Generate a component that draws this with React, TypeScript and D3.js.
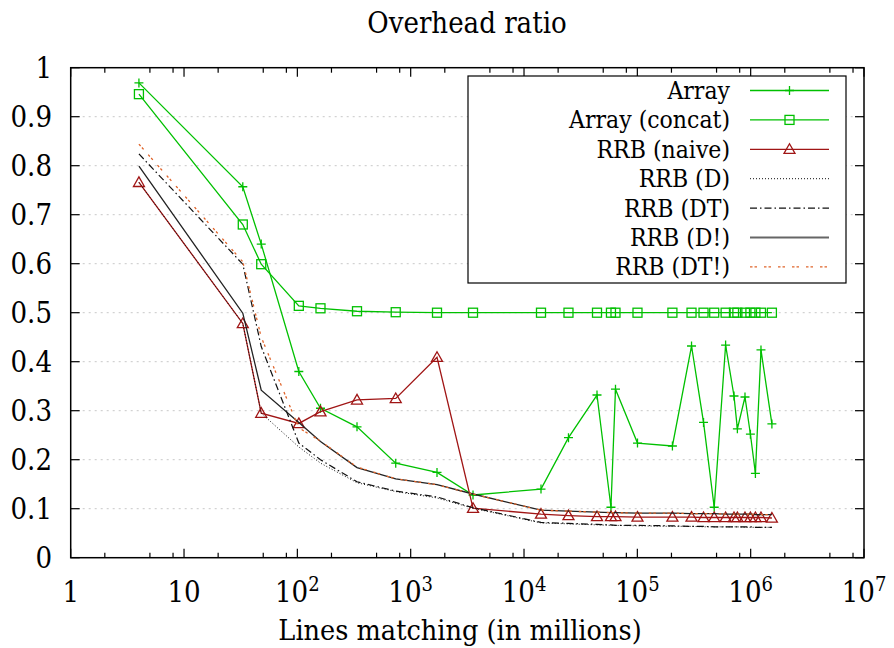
import React from "react";
import * as d3 from "d3";

const xVals = [4, 33, 48, 103, 160, 336, 738, 1707, 3548, 14120, 24680, 44060, 58500, 64150, 100300, 203900, 300700, 383700, 476700, 601000, 712600, 763300, 891000, 994600, 1101000, 1233000, 1539000];
const arrayVals = [0.969, 0.757, 0.640, 0.380, 0.305, 0.267, 0.193, 0.174, 0.128, 0.140, 0.245, 0.332, 0.103, 0.344, 0.234, 0.228, 0.432, 0.276, 0.103, 0.434, 0.330, 0.263, 0.328, 0.252, 0.172, 0.424, 0.273];
const concatVals = [0.946, 0.680, 0.599, 0.514, 0.509, 0.503, 0.501, 0.500, 0.500, 0.500, 0.500, 0.500, 0.500, 0.500, 0.500, 0.500, 0.500, 0.500, 0.500, 0.500, 0.500, 0.500, 0.500, 0.500, 0.500, 0.500, 0.500];
const naiveVals = [0.766, 0.478, 0.295, 0.274, 0.298, 0.322, 0.325, 0.409, 0.101, 0.089, 0.086, 0.084, 0.084, 0.084, 0.083, 0.083, 0.083, 0.082, 0.082, 0.082, 0.082, 0.082, 0.082, 0.082, 0.082, 0.082, 0.081];
const dVals = [0.766, 0.478, 0.295, 0.226, 0.193, 0.153, 0.135, 0.122, 0.101, 0.071, 0.069, 0.067, 0.066, 0.066, 0.065, 0.064, 0.064, 0.063, 0.063, 0.063, 0.063, 0.063, 0.062, 0.062, 0.062, 0.062, 0.062];
const dtVals = [0.824, 0.599, 0.431, 0.234, 0.200, 0.155, 0.136, 0.124, 0.102, 0.072, 0.070, 0.068, 0.067, 0.066, 0.066, 0.065, 0.064, 0.064, 0.063, 0.063, 0.063, 0.063, 0.063, 0.063, 0.062, 0.062, 0.062];
const dBangVals = [0.799, 0.499, 0.342, 0.276, 0.237, 0.184, 0.161, 0.149, 0.130, 0.097, 0.095, 0.093, 0.092, 0.092, 0.091, 0.091, 0.090, 0.090, 0.090, 0.089, 0.089, 0.089, 0.089, 0.089, 0.088, 0.088, 0.088];
const dtBangVals = [0.844, 0.604, 0.450, 0.265, 0.238, 0.185, 0.161, 0.149, 0.130, 0.097, 0.095, 0.093, 0.092, 0.092, 0.091, 0.091, 0.090, 0.090, 0.090, 0.089, 0.089, 0.089, 0.089, 0.089, 0.088, 0.088, 0.088];

const seriesNames = ["Array", "Array (concat)", "RRB (naive)", "RRB (D)", "RRB (DT)", "RRB (D!)", "RRB (DT!)"];
const yTicks = [0, 0.1, 0.2, 0.3, 0.4, 0.5, 0.6, 0.7, 0.8, 0.9, 1];
const yTickLabels = ["0", "0.1", "0.2", "0.3", "0.4", "0.5", "0.6", "0.7", "0.8", "0.9", "1"];
const xExponents = [0, 1, 2, 3, 4, 5, 6, 7];
const minorMults = [2, 5, 8];

const FONT = "'DejaVu Serif', serif";

type Style = { color: string; width: number; dash?: string; marker?: "plus" | "square" | "triangle"; legColor?: string };
const styles: Style[] = [
  { color: "#00c000", width: 1.3, marker: "plus" },
  { color: "#00c000", width: 1.3, marker: "square" },
  { color: "#a01515", width: 1.3, marker: "triangle" },
  { color: "#111", width: 1, dash: "1,2" },
  { color: "#111", width: 1.2, dash: "7,3,1.5,3" },
  { color: "#222", width: 1.3, legColor: "#666" },
  { color: "#e0642a", width: 1.3, dash: "2.5,2,2.5,7" },
];

const seriesValues = [arrayVals, concatVals, naiveVals, dVals, dtVals, dBangVals, dtBangVals];

function Marker({ kind, x, y, color }: { kind?: string; x: number; y: number; color: string }) {
  if (kind === "plus") {
    const s = 4.5;
    return <path d={`M${x - s},${y}H${x + s}M${x},${y - s}V${y + s}`} stroke={color} strokeWidth={1.3} fill="none" />;
  }
  if (kind === "square") {
    const s = 4.5;
    return <rect x={x - s} y={y - s} width={2 * s} height={2 * s} stroke={color} strokeWidth={1.3} fill="none" />;
  }
  if (kind === "triangle") {
    const s = 5.5;
    return <path d={`M${x},${y - s}L${x + s},${y + s * 0.75}L${x - s},${y + s * 0.75}Z`} stroke={color} strokeWidth={1.3} fill="none" />;
  }
  return null;
}

export default function App() {
  const W = 894, H = 648;
  const x0 = 70.7, x1 = 864, yTop = 67.7, yBot = 557.7;
  const x = d3.scaleLog().domain([1, 1e7]).range([x0, x1]);
  const y = d3.scaleLinear().domain([0, 1]).range([yBot, yTop]);
  const line = d3.line<[number, number]>().x((d) => x(d[0])).y((d) => y(d[1]));

  const legX = 468, legY = 76, legW = 378, legH = 207;
  const rowY0 = 90.5, rowDy = 29.4;

  return (
    <svg width={W} height={H} style={{ position: "absolute", left: 0, top: 0, background: "#fff" }} fontFamily={FONT}>
      <style>{`text{font-stretch:condensed;}`}</style>
      {/* grid */}
      {yTicks.slice(1, -1).map((t) => (
        <line key={"g" + t} x1={x0} x2={x1} y1={y(t)} y2={y(t)} stroke="#c8c8c8" strokeWidth={1} strokeDasharray="2,4" />
      ))}
      {/* y ticks */}
      {yTicks.map((t, i) => (
        <g key={"yt" + t}>
          <line x1={x0} x2={x0 + 9} y1={y(t)} y2={y(t)} stroke="#000" strokeWidth={1.2} />
          <line x1={x1} x2={x1 - 9} y1={y(t)} y2={y(t)} stroke="#000" strokeWidth={1.2} />
          <text x={52} y={y(t) + 10.5} textAnchor="end" fontSize={29}>{yTickLabels[i]}</text>
        </g>
      ))}
      {/* x ticks */}
      {xExponents.map((e) => {
        const v = Math.pow(10, e);
        const px = x(v);
        return (
          <g key={"xt" + e}>
            <line x1={px} x2={px} y1={yBot} y2={yBot - 9} stroke="#000" strokeWidth={1.2} />
            <line x1={px} x2={px} y1={yTop} y2={yTop + 9} stroke="#000" strokeWidth={1.2} />
            <text x={px} y={602} textAnchor="middle" fontSize={29}>
              {e === 0 ? "1" : e === 1 ? "10" : (
                <>
                  <tspan>10</tspan>
                  <tspan dy={-11} fontSize={20}>{e}</tspan>
                </>
              )}
            </text>
          </g>
        );
      })}
      {xExponents.slice(0, -1).map((e) =>
        minorMults.map((m) => {
          const px = x(m * Math.pow(10, e));
          return (
            <g key={"mt" + e + "_" + m}>
              <line x1={px} x2={px} y1={yBot} y2={yBot - 5} stroke="#000" strokeWidth={1.2} />
              <line x1={px} x2={px} y1={yTop} y2={yTop + 5} stroke="#000" strokeWidth={1.2} />
            </g>
          );
        })
      )}
      {/* series */}
      {seriesValues.map((vals, si) => {
        const st = styles[si];
        const pts: [number, number][] = vals.map((v, i) => [xVals[i], v]);
        return (
          <g key={"s" + si}>
            <path d={line(pts) || ""} fill="none" stroke={st.color} strokeWidth={st.width} strokeDasharray={st.dash} />
            {st.marker && pts.map((p, i) => <Marker key={i} kind={st.marker} x={x(p[0])} y={y(p[1])} color={st.color} />)}
          </g>
        );
      })}
      {/* legend */}
      <rect x={legX} y={legY} width={legW} height={legH} fill="#fff" stroke="#000" strokeWidth={1.2} />
      {seriesNames.map((name, i) => {
        const st = styles[i];
        const cy = rowY0 + i * rowDy;
        return (
          <g key={"l" + i}>
            <text x={730} y={cy + 8.5} textAnchor="end" fontSize={24.5}>{name}</text>
            <line x1={750} x2={829} y1={cy} y2={cy} stroke={st.legColor || st.color} strokeWidth={st.legColor ? 2 : st.width} strokeDasharray={st.dash} />
            {st.marker && <Marker kind={st.marker} x={789.5} y={cy} color={st.color} />}
          </g>
        );
      })}
      {/* border */}
      <rect x={x0} y={yTop} width={x1 - x0} height={yBot - yTop} fill="none" stroke="#000" strokeWidth={1.5} />
      {/* titles */}
      <text x={467} y={33} textAnchor="middle" fontSize={29}>Overhead ratio</text>
      <text x={460} y={640} textAnchor="middle" fontSize={28.5}>Lines matching (in millions)</text>
    </svg>
  );
}
